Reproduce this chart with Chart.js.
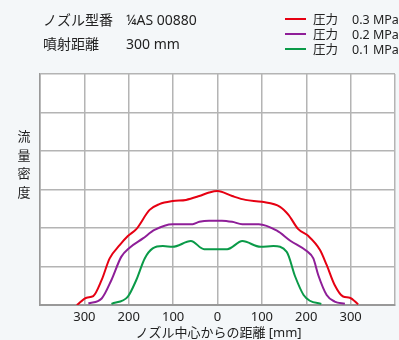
<!DOCTYPE html>
<html>
<head>
<meta charset="utf-8">
<script src="https://cdn.jsdelivr.net/npm/chart.js@4/dist/chart.umd.min.js"></script>
<style>
  html, body { margin: 0; padding: 0; background: #f4f7f9; }
  body { font-family: "Noto Sans", "Noto Sans CJK JP", sans-serif; color: #222; }
  #wrap { position: relative; width: 399px; height: 340px; overflow: hidden; }
  #chart { position: absolute; left: 0; top: 0; }
  .txt { position: absolute; white-space: nowrap; }
  .hd { font-size: 14px; line-height: 18px; }
  .lg { font-size: 12.5px; line-height: 15px; }
  .lgline { position: absolute; width: 21px; height: 2px; }
  #ytitle { left: 17px; top: 127px; font-size: 13px; line-height: 18.5px; width: 14px; text-align: center; }
  #xtitle { left: 0; width: 437px; top: 323px; font-size: 13px; line-height: 18px; text-align: center; }
</style>
</head>
<body>
<div id="wrap">
  <canvas id="chart" width="399" height="340"></canvas>
  <div class="txt hd" style="left:43px;top:11px;">ノズル型番</div>
  <div class="txt hd" style="left:126px;top:11px;">¼AS 00880</div>
  <div class="txt hd" style="left:43px;top:35px;">噴射距離</div>
  <div class="txt hd" style="left:126px;top:35px;">300 mm</div>
  <div id="legend"></div>
  <div id="ytitle" class="txt"></div>
  <div id="xtitle" class="txt"></div>
</div>
<script>
const seriesNames = ['圧力', '圧力', '圧力'];
const seriesPressure = ['0.3 MPa', '0.2 MPa', '0.1 MPa'];
const seriesColors = ['#e60012', '#8e1e98', '#0a9a48'];

// 0.3 MPa
const redX = [-317,-295,-280,-261,-243,-220,-202,-183,-153,-131,-101,-71,-41,-19,0,33,63,100,141,160,182,205,231,246,264,283,298,317];
const redY = [0,0.19,0.23,0.65,1.21,1.56,1.79,1.97,2.47,2.62,2.70,2.73,2.83,2.92,2.96,2.83,2.73,2.68,2.55,2.34,1.97,1.79,1.43,1.04,0.52,0.22,0.19,0.02];
// 0.2 MPa
const purpleX = [-291,-261,-239,-217,-198,-168,-142,-101,-56,-41,-19,10,33,56,93,134,164,201,216,227,246,264,287];
const purpleY = [0.04,0.17,0.65,1.25,1.49,1.73,1.95,2.10,2.10,2.16,2.19,2.19,2.16,2.10,2.10,1.93,1.67,1.40,1.21,0.78,0.26,0.09,0.03];
// 0.1 MPa
const greenX = [-239,-202,-183,-164,-146,-123,-101,-60,-30,-19,22,56,97,126,156,175,194,208,234];
const greenY = [0.03,0.22,0.65,1.21,1.47,1.53,1.51,1.66,1.45,1.45,1.45,1.66,1.51,1.53,1.38,0.74,0.26,0.11,0.03];

const xTickLabels = [300, 200, 100, 0, 100, 200, 300];
const yTitle = '流量密度';
const xTitle = 'ノズル中心からの距離 [mm]';

function toPoints(xs, ys) {
    return xs.map((x, i) => ({ x: x, y: ys[i] }));
}

const allX = [redX, purpleX, greenX];
const allY = [redY, purpleY, greenY];

// legend
var legendHtml = '';
for (let i = 0; i < 3; i++) {
    const top = 12 + i * 15;
    legendHtml += '<div class="lgline" style="left:285px;top:' + (top + 6) + 'px;background:' + seriesColors[i] + '"></div>';
    legendHtml += '<div class="txt lg" style="left:313px;top:' + top + 'px;">' + seriesNames[i] + '</div>';
    legendHtml += '<div class="txt lg" style="left:352px;top:' + top + 'px;">' + seriesPressure[i] + '</div>';
}
document.getElementById('legend').innerHTML = legendHtml;
document.getElementById('ytitle').innerHTML = yTitle.split('').join('<br>');
document.getElementById('xtitle').textContent = xTitle;

const whiteArea = {
    id: 'whiteArea',
    beforeDraw(chart) {
        const a = chart.chartArea;
        const c = chart.ctx;
        c.save();
        c.fillStyle = '#ffffff';
        c.fillRect(a.left, a.top, a.right - a.left, a.bottom - a.top);
        c.restore();
    }
};

const ctx = document.getElementById('chart').getContext('2d');
new Chart(ctx, {
    type: 'line',
    data: {
        datasets: allX.map((xs, i) => ({
            label: seriesNames[i] + ' ' + seriesPressure[i],
            data: toPoints(xs, allY[i]),
            borderColor: seriesColors[i],
            borderWidth: 2,
            pointRadius: 0,
            fill: false,
            cubicInterpolationMode: 'monotone'
        }))
    },
    options: {
        responsive: false,
        animation: false,
        devicePixelRatio: 1,
        layout: { padding: { top: 74, left: 0, right: 3, bottom: 0 } },
        plugins: { legend: { display: false }, tooltip: { enabled: false } },
        scales: {
            x: {
                type: 'linear',
                min: -400,
                max: 400,
                afterFit: s => { s.height = 35; },
                afterBuildTicks: s => {
                    s.ticks = [];
                    for (let v = -400; v <= 400; v += 100) s.ticks.push({ value: v });
                },
                grid: { color: '#b4b4b4', drawTicks: false, lineWidth: 1.5 },
                border: { color: '#999999', width: 2 },
                ticks: {
                    padding: 4,
                    color: '#222',
                    font: { family: '"Noto Sans", sans-serif', size: 13 },
                    maxRotation: 0,
                    autoSkip: false,
                    callback: (v) => {
                        const idx = v / 100 + 3;
                        return (idx >= 0 && idx < xTickLabels.length) ? String(xTickLabels[idx]) : '';
                    }
                }
            },
            y: {
                min: 0,
                max: 6,
                afterFit: s => { s.width = 40; },
                grid: { color: '#b4b4b4', drawTicks: false, lineWidth: 1.5 },
                border: { color: '#999999', width: 1.5 },
                ticks: { display: false, stepSize: 1 }
            }
        }
    },
    plugins: [whiteArea]
});
</script>
</body>
</html>
